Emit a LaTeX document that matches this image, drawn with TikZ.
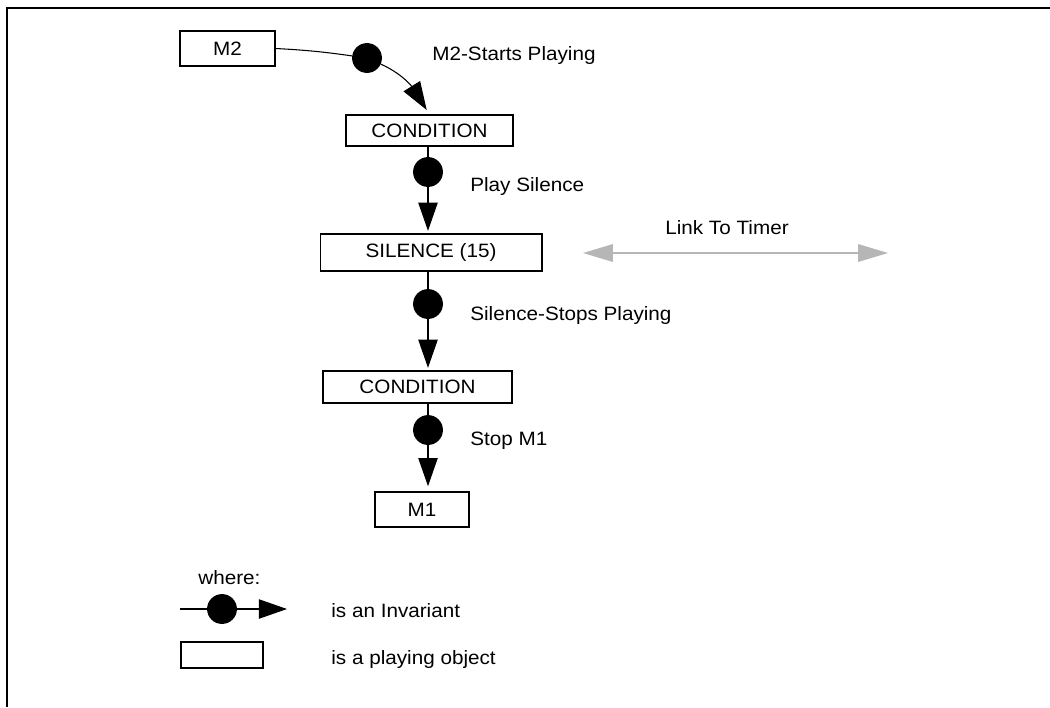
\documentclass[tikz,border=0pt]{standalone}
\usepackage{fontspec}
\setmainfont{Liberation Sans}[FakeStretch=1.07]
\usetikzlibrary{arrows.meta}
\definecolor{linkgray}{RGB}{182,182,182}
\tikzset{
  playbox/.style={draw, line width=0.6pt, inner sep=0pt},
  invariant/.style={circle, fill=black, minimum size=17pt, inner sep=0pt},
  wire/.style={line width=0.6pt},
  flow/.style={line width=0.6pt, -{Triangle[length=16pt,width=11pt]}, shorten >=1.5pt},
  timerlink/.style={line width=0.8pt, draw=linkgray, {Triangle[length=17pt,width=10pt]}-{Triangle[length=17pt,width=10pt]}},
  note/.style={anchor=base west, inner sep=0pt}
}
\begin{document}
\begin{tikzpicture}[x=0.02cm,y=-0.02cm,font=\fontsize{11pt}{13pt}\selectfont]
\useasboundingbox (0,0) rectangle (1050,707);
\draw[line width=0.9pt] (7,707) -- (7,8) -- (1050,8);

\node[playbox, minimum width=1.9cm, minimum height=0.7cm] (m2) at (227.5,48.5) {M2};
\node[playbox, minimum width=3.34cm, minimum height=0.62cm] (cond1) at (429.5,130.5) {CONDITION};
\node[playbox, minimum width=4.44cm, minimum height=0.74cm] (silence) at (431,252.5) {SILENCE (15)};
\node[playbox, minimum width=3.78cm, minimum height=0.64cm] (cond2) at (417.5,387) {CONDITION};
\node[playbox, minimum width=1.88cm, minimum height=0.7cm] (m1) at (422,509.5) {M1};

\node[invariant] (d1) at (367,58) {};
\node[invariant] (d2) at (428,172) {};
\node[invariant] (d3) at (428,304) {};
\node[invariant] (d4) at (428,430) {};

\node[note] (t1) at (432,60) {M2-Starts Playing};
\node[note] (t2) at (470,191) {Play Silence};
\node[note] (t3) at (470,320) {Silence-Stops Playing};
\node[note] (t4) at (470,445) {Stop M1};

\draw[wire] (m2.east) to[out=-3,in=172] (d1);
\draw[flow, shorten >=3pt] (d1) to[out=-24,in=122] (cond1.north);
\draw[wire] (cond1.south -| d2) -- (d2);
\draw[flow] (d2) -- (silence.north -| d2);
\draw[wire] (silence.south -| d3) -- (d3);
\draw[flow] (d3) -- (cond2.north -| d3);
\draw[wire] (cond2.south -| d4) -- (d4);
\draw[flow, shorten >=3pt] (d4) -- (m1.north -| d4);

\coordinate (linkL) at (583,253);
\coordinate (linkR) at (888,253);
\draw[timerlink] (linkL) -- (linkR);
\node[anchor=base, inner sep=0pt] (linktext) at (727,234) {Link To Timer};

\node[note] (where) at (198,584) {where:};
\coordinate (legL) at (180,609);
\node[invariant] (legdot) at (222,609) {};
\coordinate (legR) at (287,609);
\draw[wire] (legL) -- (legdot);
\draw[flow, shorten >=0pt] (legdot) -- (legR);
\node[note] (leginv) at (331,617) {is an Invariant};
\node[playbox, minimum width=1.64cm, minimum height=0.52cm] (legbox) at (222,655) {};
\node[note] (legobj) at (331,664) {is a playing object};
\end{tikzpicture}
\end{document}
